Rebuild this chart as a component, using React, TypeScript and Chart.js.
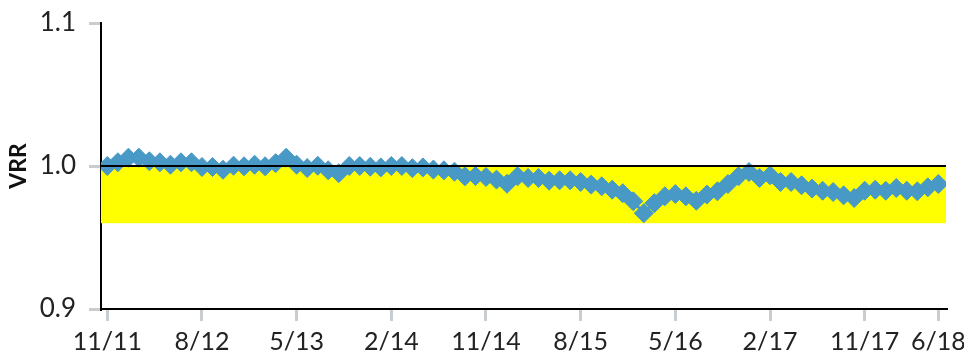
import { useEffect, useRef } from 'react';
import { Chart, registerables } from 'chart.js';

Chart.register(...registerables);

// Monthly VRR, 11/11 .. 6/18 (80 months)
const vrr = [
  1.0, 1.0026, 1.0058, 1.0058, 1.0033, 1.0026, 1.0009, 1.0026, 1.0026, 0.9993,
  0.9993, 0.9974, 1.0002, 0.9998, 1.0009, 0.9998, 1.002, 1.0058, 1.0009, 0.9986,
  1.0002, 0.997, 0.995, 1.0, 1.0, 0.9995, 0.999, 1.0, 1.0, 0.9985,
  0.999, 0.9975, 0.997, 0.996, 0.9928, 0.993, 0.9923, 0.9905, 0.9876, 0.9928,
  0.9916, 0.9916, 0.9897, 0.99, 0.99, 0.9888, 0.987, 0.9858, 0.9834, 0.981,
  0.9753, 0.967, 0.974, 0.9788, 0.9804, 0.9788, 0.9757, 0.98, 0.9823, 0.9874,
  0.9928, 0.9958, 0.9916, 0.9935, 0.9888, 0.9888, 0.9865, 0.9842, 0.9827, 0.9818,
  0.9795, 0.9776, 0.9827, 0.9834, 0.9827, 0.9846, 0.9827, 0.9823, 0.9851, 0.9874,
];
const tickMonths = [0, 9, 18, 27, 36, 45, 54, 63, 72, 79];
const tickLabels = ['11/11', '8/12', '5/13', '2/14', '11/14', '8/15', '5/16', '2/17', '11/17', '6/18'];
const yTicks = [0.9, 1.0, 1.1];
const yTickLabels = ['0.9', '1.0', '1.1'];
const bandLow = 0.96;
const bandHigh = 1.0;
const refLine = 1.0;

const BLUE = '#4899c6';
const GRAY = '#c8cdd2';
const FONT = 'Lato, "DejaVu Sans", sans-serif';

export default function App() {
  const ref = useRef<HTMLCanvasElement>(null);

  useEffect(() => {
    if (!ref.current) return;
    const bandPlugin = {
      id: 'bandAndRef',
      beforeDatasetsDraw(chart: any) {
        const { ctx, chartArea, scales } = chart;
        const y = scales.y;
        const top = y.getPixelForValue(bandHigh);
        const bot = y.getPixelForValue(bandLow);
        ctx.save();
        ctx.fillStyle = '#ffff00';
        ctx.fillRect(chartArea.left, top, chartArea.right - chartArea.left, bot - top);
        ctx.restore();
      },
      afterDatasetsDraw(chart: any) {
        const { ctx, chartArea, scales } = chart;
        const yy = scales.y.getPixelForValue(refLine);
        ctx.save();
        ctx.strokeStyle = '#000';
        ctx.lineWidth = 2;
        ctx.beginPath();
        ctx.moveTo(chartArea.left, yy);
        ctx.lineTo(chartArea.right, yy);
        ctx.stroke();
        ctx.restore();
      },
    };

    const chart = new Chart(ref.current, {
      type: 'line',
      data: {
        datasets: [
          {
            data: vrr.map((v, i) => ({ x: i, y: v })),
            borderColor: BLUE,
            backgroundColor: BLUE,
            borderWidth: 3,
            tension: 0,
            pointStyle: 'rectRot',
            pointRadius: 9.5,
            pointBorderWidth: 1,
            pointBorderColor: BLUE,
            pointBackgroundColor: BLUE,
          },
        ],
      },
      options: {
        animation: false,
        responsive: true,
        maintainAspectRatio: false,
        layout: { padding: { top: 23, right: 18, bottom: 0, left: 0 } },
        plugins: { legend: { display: false }, tooltip: { enabled: false } },
        scales: {
          x: {
            type: 'linear',
            min: -0.6,
            max: 79.73,
            afterBuildTicks: (s: any) => {
              s.ticks = tickMonths.map((v) => ({ value: v }));
            },
            afterFit: (s: any) => {
              s.height = 47;
              s.paddingLeft = 0;
              s.paddingRight = 0;
            },
            border: { display: true, color: '#000', width: 2 },
            grid: {
              drawOnChartArea: false,
              drawTicks: true,
              tickLength: 12,
              color: GRAY,
              lineWidth: 3,
            },
            ticks: {
              autoSkip: false,
              maxRotation: 0,
              padding: 6,
              color: '#222',
              font: { family: FONT, size: 25 },
              callback: (v: any) => {
                const k = tickMonths.indexOf(Number(v));
                return k >= 0 ? tickLabels[k] : null;
              },
            },
          },
          y: {
            type: 'linear',
            min: 0.9,
            max: 1.1,
            afterBuildTicks: (s: any) => {
              s.ticks = yTicks.map((v) => ({ value: v }));
            },
            afterFit: (s: any) => {
              s.width = 101;
            },
            border: { display: true, color: '#000', width: 2 },
            grid: {
              drawOnChartArea: false,
              drawTicks: true,
              tickLength: 12,
              color: GRAY,
              lineWidth: 3,
            },
            ticks: {
              padding: 13,
              color: '#222',
              font: { family: FONT, size: 26, lineHeight: 0.7 },
              callback: (v: any) => {
                const k = yTicks.findIndex((t) => Math.abs(t - Number(v)) < 1e-9);
                return k >= 0 ? yTickLabels[k] : null;
              },
            },
            title: {
              display: true,
              text: 'VRR',
              color: '#111',
              font: { family: FONT, size: 23, weight: 'bold' },
              padding: { top: 5, bottom: 0 },
            },
          },
        },
      },
      plugins: [bandPlugin],
    });
    return () => chart.destroy();
  }, []);

  return (
    <div style={{ position: 'absolute', left: 0, top: 0, width: 964, height: 356 }}>
      <canvas ref={ref} />
    </div>
  );
}
